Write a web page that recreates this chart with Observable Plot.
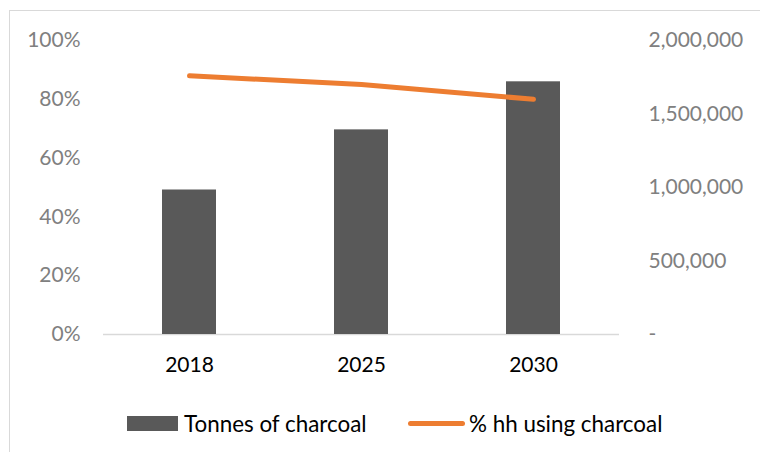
<!DOCTYPE html>
<html>
<head>
<meta charset="utf-8">
<script src="https://cdn.jsdelivr.net/npm/d3@7"></script>
<script src="https://cdn.jsdelivr.net/npm/@observablehq/plot@0.6"></script>
<style>
  html, body { margin: 0; padding: 0; background: #fff; }
  #chart { position: relative; width: 760px; height: 452px; overflow: hidden; font-family: Lato, "Open Sans", sans-serif; }
  #frame { position: absolute; left: 9px; top: 10px; right: -4px; bottom: -4px;
           border-top: 1.5px solid #d9d9d9; border-left: 1.5px solid #d9d9d9; }
  #plot { position: absolute; left: 0; top: 0; }
  .item { position: absolute; top: 408px; height: 30px; display: flex; align-items: center;
          font-size: 22.4px; color: #000; white-space: nowrap; }
  .swatch-bar { width: 51px; height: 15px; background: #595959; margin-right: 6px; }
  .swatch-line { width: 57px; height: 5px; border-radius: 3px; background: #ED7D31; margin-right: 4px; }
</style>
</head>
<body>
<div id="chart">
  <div id="frame"></div>
  <div id="plot"></div>
  <div class="item" style="left:127px"><span class="swatch-bar"></span><span>Tonnes of charcoal</span></div>
  <div class="item" style="left:408px"><span class="swatch-line"></span><span>% hh using charcoal</span></div>
</div>
<script>
// Charcoal demand and share of households using charcoal
const years = ["2018", "2025", "2030"];
const tonnesOfCharcoal = [983000, 1392000, 1719000];
const shareUsingCharcoal = [0.88, 0.85, 0.80];

// Axis ticks: left = share of households, right = tonnes
const shareTicks = [0, 0.2, 0.4, 0.6, 0.8, 1.0];
const tonneTicks = [0, 500000, 1000000, 1500000, 2000000];
const tonneMax = 2000000;

const rows = years.map((year, i) => ({
  year,
  tonnes: tonnesOfCharcoal[i],
  share: shareUsingCharcoal[i]
}));

const fmtTonnes = d3.format(",");

const chart = Plot.plot({
  width: 760,
  height: 380,
  marginLeft: 103,
  marginRight: 141,
  marginTop: 40,
  marginBottom: 46,
  style: { fontFamily: "Lato, 'Open Sans', sans-serif", fontSize: "21px", background: "transparent", overflow: "visible" },
  x: { domain: years, paddingInner: 0.686, paddingOuter: 0.343, label: null },
  y: { domain: [0, 1], label: null },
  marks: [
    Plot.ruleY([0], { stroke: "#d9d9d9", strokeWidth: 1.5 }),
    // tonnes share the [0,1] y range, scaled against the right axis maximum
    Plot.barY(rows, { x: "year", y: d => d.tonnes / tonneMax, fill: "#595959" }),
    Plot.line(rows, { x: "year", y: "share", stroke: "#ED7D31", strokeWidth: 5, strokeLinecap: "round", strokeLinejoin: "round" }),
    Plot.axisY(shareTicks, { anchor: "left", tickSize: 0, tickPadding: 23, tickFormat: d3.format(".0%"), color: "#808080", label: null }),
    Plot.axisY(tonneTicks.map(v => v / tonneMax), {
      anchor: "right", tickSize: 0, tickPadding: 29, color: "#808080", label: null,
      tickFormat: v => v === 0 ? "-" : fmtTonnes(Math.round(v * tonneMax))
    }),
    Plot.axisX({ tickSize: 0, tickPadding: 23, color: "#000", label: null })
  ]
});

document.getElementById("plot").appendChild(chart);
</script>
</body>
</html>
